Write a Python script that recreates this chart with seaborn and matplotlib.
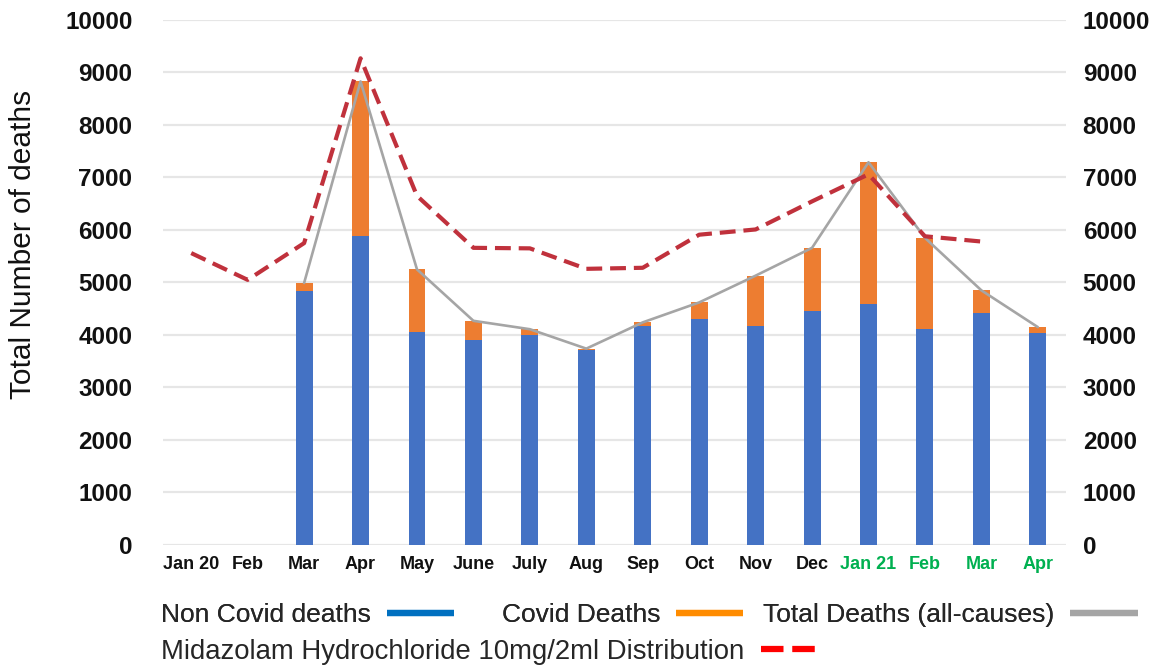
import numpy as np
import pandas as pd
import matplotlib
matplotlib.use("Agg")
import matplotlib.pyplot as plt
from matplotlib.lines import Line2D
import seaborn as sns

# Monthly values, Jan 2020 - Apr 2021
months = ["Jan 20", "Feb", "Mar", "Apr", "May", "June", "July", "Aug", "Sep",
          "Oct", "Nov", "Dec", "Jan 21", "Feb", "Mar", "Apr"]
year_2021 = [False] * 12 + [True] * 4
non_covid_deaths = [np.nan, np.nan, 4830, 5880, 4050, 3905, 4000, 3710, 4170,
                    4300, 4180, 4450, 4590, 4110, 4420, 4040]
covid_deaths = [np.nan, np.nan, 160, 2950, 1200, 365, 110, 30, 70,
                320, 950, 1210, 2700, 1740, 430, 110]
midazolam_distribution = [5560, 5050, 5750, 9270, 6650, 5660, 5650, 5260, 5280,
                          5910, 6010, 6545, 7060, 5880, 5780, np.nan]
y_ticks = list(range(0, 10001, 1000))

df = pd.DataFrame({
    "pos": np.arange(len(months)),
    "non_covid": non_covid_deaths,
    "covid": covid_deaths,
    "midazolam": midazolam_distribution,
})
df["total"] = df["non_covid"] + df["covid"]

sns.set_theme(style="white")
plt.rcParams["font.family"] = ["Liberation Sans", "DejaVu Sans"]

BLUE = "#4472C4"
ORANGE = "#ED7D31"
GREY = "#A5A5A5"
RED = "#C0313C"

fig = plt.figure(figsize=(11.61, 6.66), dpi=100)
ax = fig.add_axes([0.1404, 0.1817, 0.7778, 0.7883])

order = list(df["pos"])
# stacked bars: total (orange) underneath, non-covid (blue) on top of it
sns.barplot(data=df, x="pos", y="total", order=order, color=ORANGE,
            width=0.3, saturation=1, ax=ax, zorder=2)
sns.barplot(data=df, x="pos", y="non_covid", order=order, color=BLUE,
            width=0.3, saturation=1, ax=ax, zorder=3)
for p in ax.patches:
    p.set_edgecolor("none")

sns.lineplot(data=df, x="pos", y="total", color=GREY, lw=1.9, ax=ax, zorder=4)
sns.lineplot(data=df, x="pos", y="midazolam", color=RED, lw=3.0, ax=ax,
             zorder=5, dashes=False)
ax.lines[-1].set_dashes([3.8, 1.9])
ax.lines[-1].set_dash_capstyle("butt")

ax.set_xlim(-0.5, len(months) - 0.5)
ax.set_ylim(0, 10000)
ax.set_yticks(y_ticks)
ax.set_yticklabels([str(v) for v in y_ticks])
ax.yaxis.grid(True, color="#E6E6E6", lw=1.6, zorder=0)
ax.set_axisbelow(True)
for s in ax.spines.values():
    s.set_visible(False)

ax.set_xticks(range(len(months)))
ax.set_xticklabels(months, fontsize=13, fontweight="bold")
for lab, is21 in zip(ax.get_xticklabels(), year_2021):
    lab.set_color("#00B050" if is21 else "#111111")
ax.tick_params(axis="x", length=0, pad=8)
ax.tick_params(axis="y", length=0, pad=22, labelsize=17.5, labelcolor="#111111")
for lab in ax.get_yticklabels():
    lab.set_fontweight("bold")
ax.set_xlabel("")
ax.set_ylabel("Total Number of deaths", fontsize=21.5, color="#111111")
ax.yaxis.set_label_coords(-0.139, 0.573)

# right-hand axis repeating the death scale
ax2 = ax.twinx()
ax2.set_ylim(ax.get_ylim())
ax2.set_yticks(y_ticks)
ax2.set_yticklabels([str(v) for v in y_ticks], fontweight="bold")
ax2.tick_params(axis="y", length=0, pad=12, labelsize=17.5, labelcolor="#111111")
ax2.grid(False)
for s in ax2.spines.values():
    s.set_visible(False)

# legend below the chart, text first then swatch
h_non = Line2D([], [], color="#0070C0", lw=4.5, solid_capstyle="butt")
h_cov = Line2D([], [], color="#FF8C00", lw=4.5, solid_capstyle="butt")
h_tot = Line2D([], [], color=GREY, lw=4.5, solid_capstyle="butt")
h_mid = Line2D([], [], color="#FF0000", lw=4.5, dashes=[3.6, 1.4],
               dash_capstyle="butt")

legend_kw = dict(loc="center left", markerfirst=False, frameon=False,
                 handletextpad=0.6, borderpad=0, borderaxespad=0)
row1 = [(h_non, "Non Covid deaths", 0.1385),
        (h_cov, "Covid Deaths", 0.4320),
        (h_tot, "Total Deaths (all-causes)", 0.6575)]
for handle, label, x0 in row1:
    leg = fig.legend(handles=[handle], labels=[label], bbox_to_anchor=(x0, 0.0766),
                     fontsize=19, handlelength=2.55, **legend_kw)
    fig.add_artist(leg)
fig.legend(handles=[h_mid], labels=["Midazolam Hydrochloride 10mg/2ml Distribution"],
           bbox_to_anchor=(0.1385, 0.021), fontsize=19.8, handlelength=2.0,
           **legend_kw)

fig.savefig("out.png", dpi=100, facecolor="white")
